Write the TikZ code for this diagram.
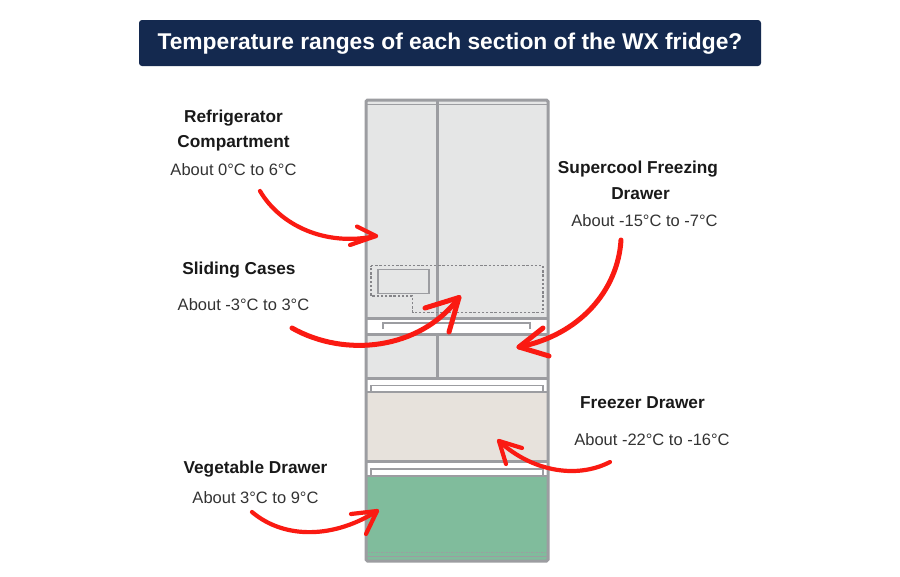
\documentclass[tikz,border=0pt]{standalone}
\usepackage{fontspec}
\setmainfont{Liberation Sans}
\definecolor{navy}{HTML}{14294F}
\definecolor{frameg}{HTML}{9C9DA1}
\definecolor{bodyg}{HTML}{E5E6E6}
\definecolor{beige}{HTML}{E7E2DC}
\definecolor{veg}{HTML}{80BC9C}
\definecolor{hand}{HTML}{FA1A12}
\tikzset{
  x=1pt,y=-1pt,
  frame/.style={draw=frameg,line width=3pt},
  thin frame/.style={draw=frameg,line width=1.8pt},
  dots/.style={draw=frameg!85!black,line width=1.9pt,dash pattern=on 2.4pt off 1.8pt},
  head/.style={font=\fontsize{17.25}{18}\selectfont\bfseries,text=black!90,inner sep=0pt},
  sub/.style={font=\fontsize{16.5}{18}\selectfont,text=black!80,inner sep=0pt},
  ink/.style={draw=hand,line width=5pt,line cap=round,line join=round},
  ink thin/.style={ink,line width=4.2pt},
}
\begin{document}
\begin{tikzpicture}
\useasboundingbox (0,0) rectangle (900,576);
\fill[white] (0,0) rectangle (900,576);
% title
\node[fill=navy,rounded corners=3pt,minimum width=622pt,minimum height=46pt,inner sep=0pt] (title) at (450,43) {};
\node[text=white,font=\fontsize{22.8}{24}\selectfont\bfseries,inner sep=0pt] (titletext) at (450,44) {Temperature ranges of each section of the WX fridge?};
% fridge fills
\fill[bodyg] (366,100) rectangle (548,318);
\fill[bodyg] (366,335) rectangle (548,378);
\fill[beige] (366,392) rectangle (548,461);
\fill[veg] (366,476) rectangle (548,561);
% inner white drawers
\draw[thin frame] (383,329) -- (383,323) -- (530,323) -- (530,329);
\draw[thin frame] (371,392) -- (371,385.5) -- (543,385.5) -- (543,392);
\draw[thin frame] (371,476) -- (371,469) -- (543,469) -- (543,476);
% horizontal dividers
\draw[thin frame] (366,104.5) -- (548,104.5);
\draw[frame] (366,318.5) -- (548,318.5);
\draw[frame] (366,334.5) -- (548,334.5);
\draw[frame] (366,378) -- (548,378);
\draw[thin frame] (366,392) -- (548,392);
\draw[frame] (366,461.5) -- (548,461.5);
\draw[thin frame] (366,476) -- (548,476);
\draw[draw=frameg,line width=1pt,dash pattern=on 1.5pt off 1pt] (366,552) -- (548,552);
\draw[thin frame] (366,556.5) -- (548,556.5);
% vertical dividers
\draw[frame] (437.7,100) -- (437.7,318);
\draw[frame] (437.7,335) -- (437.7,378);
% outer frame
\draw[frame,rounded corners=1.5pt] (366,100) rectangle (548,561);
% dotted sliding case
\draw[dots] (371,265.5) -- (542.7,265.5) -- (542.7,312.5) -- (412.5,312.5) -- (412.5,296) -- (371,296) -- cycle;
\draw[thin frame] (378,269.5) rectangle (429,293.5);
% labels
\node[head] (refa) at (233.5,118) {Refrigerator};
\node[head] (refb) at (233.5,143) {Compartment};
\node[sub] (refc) at (233.5,170) {About 0°C to 6°C};
\node[head] (slia) at (239,270) {Sliding Cases};
\node[sub] (slib) at (243.5,305) {About -3°C to 3°C};
\node[head] (supa) at (638,169) {Supercool Freezing};
\node[head] (supb) at (640.5,194) {Drawer};
\node[sub] (supc) at (644.5,221) {About -15°C to -7°C};
\node[head] (frea) at (642.5,403) {Freezer Drawer};
\node[sub] (freb) at (652,440) {About -22°C to -16°C};
\node[head] (vega) at (255.5,469) {Vegetable Drawer};
\node[sub] (vegb) at (255.5,498) {About 3°C to 9°C};
% hand arrows
\coordinate (t1) at (376,236);
\draw[ink thin] (260,191) .. controls (280,225) and (325,247) .. (t1);
\draw[ink thin] (357,226.5) -- (t1) -- (350,245);
\coordinate (t2) at (459,297.5);
\draw[ink] (292,328) .. controls (345,358) and (420,350) .. (t2);
\draw[ink] (425,308) -- (t2) -- (449,332);
\coordinate (t3) at (519,347);
\draw[ink] (621,240) .. controls (618,290) and (580,335) .. (t3);
\draw[ink] (543,328) -- (t3) -- (549,356);
\coordinate (t4) at (499,441);
\draw[ink thin] (610,462) .. controls (575,480) and (530,470) .. (t4);
\draw[ink thin] (522,448) -- (t4) -- (506,464);
\coordinate (t5) at (377,511);
\draw[ink thin] (252,512) .. controls (285,540) and (335,538) .. (t5);
\draw[ink thin] (351,514) -- (t5) -- (366,534);
\end{tikzpicture}
\end{document}
